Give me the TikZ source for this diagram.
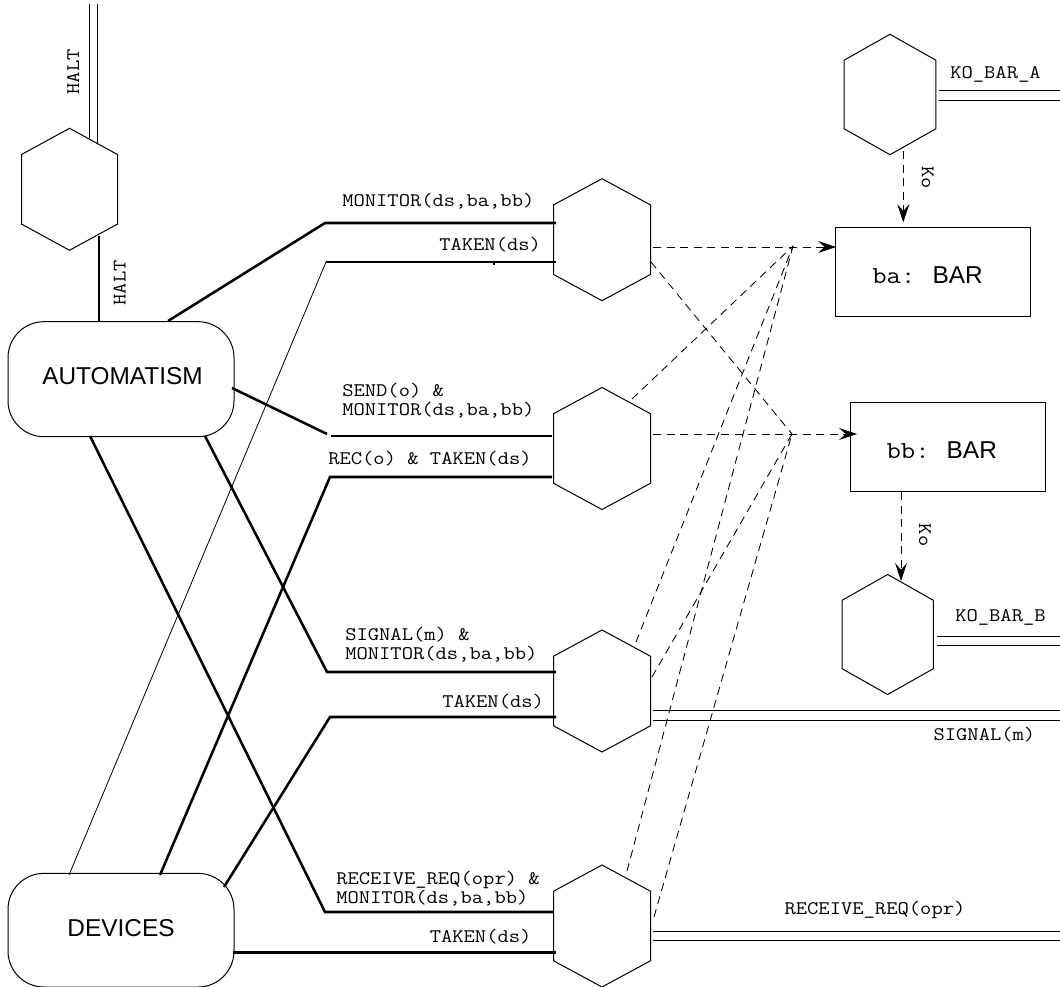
\documentclass[tikz,border=0pt]{standalone}
\usepackage{fontspec}
\setmainfont{Liberation Sans}
\newfontfamily\labfont[FakeStretch=1.143]{Latin Modern Mono}
\usetikzlibrary{arrows.meta,calc}
\newcommand{\hexa}[5]{%
  \node[hexbox,minimum width=#4*0.75pt,minimum height=#5*0.75pt] (#1) at (#2,#3) {};
  \draw[hexline] (#1.north) -- ++(#4/2,{#5*0.215}) -- ++(0,{#5*0.57}) -- (#1.south) -- ++(-#4/2,{-#5*0.215}) -- ++(0,{-#5*0.57}) -- cycle;}
\newcommand{\barlabel}[1]{{\labfont #1:}\hspace{0.7em}BAR\hspace*{8.7pt}}
\tikzset{
  x=0.75pt,y=-0.75pt,
  hexbox/.style={inner sep=0pt,outer sep=0pt,draw=none},
  hexline/.style={line width=0.75pt,draw=black},
  rounded/.style={draw,line width=0.75pt,rounded corners=27pt,inner sep=0pt,font=\fontsize{18.3}{20}\selectfont},
  barbox/.style={draw,line width=0.75pt,inner sep=0pt,text height=18pt,text depth=0.4pt,font=\fontsize{18.3}{20}\selectfont},
  thickl/.style={line width=1.9pt},
  thinl/.style={line width=0.6pt},
  rail/.style={line width=0.75pt},
  dashl/.style={line width=0.65pt,dash pattern=on 6pt off 4.2pt},
  dasharrow/.style={dashl,-{Stealth[length=13.5pt,width=9pt,inset=5pt]}},
  lab/.style={font=\labfont\fontsize{14.4}{14.3}\selectfont,inner sep=0pt,align=left},
}
\begin{document}
\begin{tikzpicture}
\useasboundingbox (0,0) rectangle (1060,987);
\hexa{h0}{69.5}{189.3}{96}{122}
\hexa{h1}{602}{239.7}{97}{122}
\hexa{h2}{602}{448.5}{97}{122}
\hexa{h3}{602}{691}{97}{122}
\hexa{h4}{602}{926}{97}{122}
\hexa{h5}{890}{94.5}{91.7}{120.4}
\hexa{h6}{887.7}{634.5}{91.3}{120}
\node[rounded,minimum width=226*0.75pt,minimum height=115*0.75pt,text height=13pt,text depth=4.4pt] (auto) at (121,379.2) {\hspace*{2.25pt}AUTOMATISM};
\node[rounded,minimum width=226*0.75pt,minimum height=113.7*0.75pt,text height=13pt,text depth=3.9pt] (dev) at (121,930.2) {DEVICES};
\node[barbox,minimum width=195*0.75pt,minimum height=89*0.75pt] (ba) at (933.3,272) {\barlabel{ba}};
\node[barbox,minimum width=195*0.75pt,minimum height=89*0.75pt] (bb) at (947.5,447.2) {\barlabel{bb}};
% free ends
\coordinate (ja) at (793,246);
\coordinate (jb) at (792,434);
% halt
\coordinate (r1a) at (89.3,4);\coordinate (r1b) at (89.3,138.5);
\coordinate (r2a) at (97,4);\coordinate (r2b) at (97,143);
\draw[rail] (r1a) -- (r1b);
\draw[rail] (r2a) -- (r2b);
\coordinate (ha) at (99,236);
\coordinate (hb) at (99,321);
\draw[thickl] (ha) -- (hb);
\node[lab,rotate=90] (lhalt1) at (73,72) {HALT};
\node[lab,rotate=90] (lhalt2) at (119.5,283) {HALT};
% thick connectors
\coordinate (a1) at (168,321);\coordinate (b1) at (325,223);\coordinate (c1) at (556,223);
\draw[thickl] (a1) -- (b1) -- (c1);
\coordinate (a2) at (69,875);\coordinate (b2) at (326,262);\coordinate (c2) at (556,262);
\draw[thinl] (a2) -- (b2);
\draw[thickl] (b2) -- (c2);
\coordinate (a3) at (232,388);\coordinate (b3) at (327,434);\coordinate (b3b) at (331,436);\coordinate (c3) at (552,436);
\draw[thickl] (a3) -- (b3);
\draw[thickl] (b3b) -- (c3);
\coordinate (a4) at (160,875);\coordinate (b4) at (330,477);\coordinate (c4) at (552,477);
\draw[thickl] (a4) -- (b4) -- (c4);
\coordinate (a5) at (205,436);\coordinate (b5) at (327,672);\coordinate (c5) at (556,672);
\draw[thickl] (a5) -- (b5) -- (c5);
\coordinate (a6) at (224,887);\coordinate (b6) at (330,717);\coordinate (c6) at (556,717);
\draw[thickl] (a6) -- (b6) -- (c6);
\coordinate (a7) at (90,436);\coordinate (b7) at (325,912);\coordinate (c7) at (553,912);
\draw[thickl] (a7) -- (b7) -- (c7);
\coordinate (a8) at (233,952.5);\coordinate (c8) at (556,952.5);
\draw[thickl] (a8) -- (c8);
\fill (492.5,262) rectangle (494.5,265.5);
% dashed
\coordinate (d1) at (653,247);\coordinate (d1t) at (836,247);
\draw[dasharrow] (d1) -- (d1t);
\coordinate (d2) at (653,434);\coordinate (d2t) at (857,434);
\draw[dasharrow] (d2) -- (d2t);
\coordinate (d3) at (651,262);\draw[dashl] (d3) -- (jb);
\coordinate (d4) at (632,399);\draw[dashl] (d4) -- (ja);
\coordinate (d5) at (636,642);\draw[dashl] (d5) -- (ja);
\coordinate (d6) at (652,677);\draw[dashl] (d6) -- (jb);
\coordinate (d7) at (627,871);\draw[dashl] (d7) -- (ja);
\coordinate (d8) at (654,917);\draw[dashl] (d8) -- (jb);
\coordinate (k1) at (903.3,151);\coordinate (k1t) at (903.3,222.3);
\draw[dasharrow] (k1) -- (k1t);
\coordinate (k2) at (901,492);\coordinate (k2t) at (901,581);
\draw[dasharrow] (k2) -- (k2t);
% double
\coordinate (e1) at (939,90.7);\coordinate (f1) at (1060,90.7);
\coordinate (e1b) at (939,100.3);\coordinate (f1b) at (1060,100.3);
\draw[rail] (e1) -- (f1);\draw[rail] (e1b) -- (f1b);
\coordinate (e2) at (937,636);\coordinate (f2) at (1060,636);
\coordinate (e2b) at (937,645.3);\coordinate (f2b) at (1060,645.3);
\draw[rail] (e2) -- (f2);\draw[rail] (e2b) -- (f2b);
\coordinate (e3) at (653,710.5);\coordinate (f3) at (1060,710.5);
\coordinate (e3b) at (653,720);\coordinate (f3b) at (1060,720);
\draw[rail] (e3) -- (f3);\draw[rail] (e3b) -- (f3b);
\coordinate (e4) at (653,931);\coordinate (f4) at (1060,931);
\coordinate (e4b) at (653,940.5);\coordinate (f4b) at (1060,940.5);
\draw[rail] (e4) -- (f4);\draw[rail] (e4b) -- (f4b);
% labels
\node[lab,anchor=west] (l1) at (342,201) {MONITOR(ds,ba,bb)};
\node[lab,anchor=west] (l2) at (439,245) {TAKEN(ds)};
\node[lab,anchor=west] (l3) at (342,401) {SEND(o) \&\\MONITOR(ds,ba,bb)};
\node[lab,anchor=west] (l4) at (328,458.3) {REC(o) \& TAKEN(ds)};
\node[lab,anchor=west] (l5) at (345,644.5) {SIGNAL(m) \&\\MONITOR(ds,ba,bb)};
\node[lab,anchor=west] (l6) at (442,701.7) {TAKEN(ds)};
\node[lab,anchor=west] (l7) at (336,888.3) {RECEIVE\_REQ(opr) \&\\MONITOR(ds,ba,bb)};
\node[lab,anchor=west] (l8) at (429.5,936.7) {TAKEN(ds)};
\node[lab,anchor=west] (l9) at (950,74.3) {KO\_BAR\_A};
\node[lab,anchor=west] (l10) at (955,617.7) {KO\_BAR\_B};
\node[lab,anchor=west] (l11) at (933.3,735) {SIGNAL(m)};
\node[lab,anchor=west] (l12) at (784.3,910) {RECEIVE\_REQ(opr)};
\node[lab,rotate=-90] (l13) at (927.7,177.7) {Ko};
\node[lab,rotate=-90] (l14) at (925,535) {Ko};
\end{tikzpicture}
\end{document}
